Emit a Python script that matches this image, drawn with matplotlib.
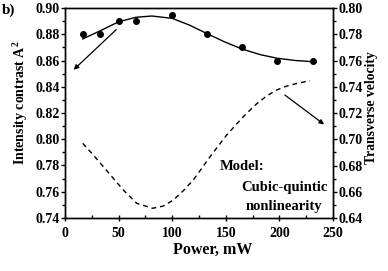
import matplotlib
matplotlib.use("Agg")
import matplotlib.pyplot as plt
from matplotlib.ticker import MultipleLocator

plt.rcParams['font.family'] = ['Liberation Serif', 'DejaVu Serif']
plt.rcParams['font.weight'] = 'bold'
plt.rcParams['mathtext.fontset'] = 'custom'
plt.rcParams['mathtext.bf'] = 'Liberation Serif:bold'
plt.rcParams['mathtext.rm'] = 'Liberation Serif:bold'

# measured points (left axis)
power_pts = [16.5, 33, 50, 66, 100, 132, 165, 198, 231]
contrast_pts = [0.880, 0.880, 0.890, 0.890, 0.895, 0.880, 0.870, 0.860, 0.860]

# solid fit curve (left axis)
fit_x = [16.5, 33, 50, 66, 81, 100, 116, 132, 148, 165, 182, 198, 215, 231]
fit_y = [0.8764, 0.8827, 0.8895, 0.8929, 0.8939, 0.8921, 0.8870, 0.8807, 0.8745, 0.8688, 0.8645, 0.8617, 0.8600, 0.8591]

# dashed model curve (right axis)
model_x = [16.5, 26.4, 35.8, 45.1, 54.4, 66.9, 81.8, 91.7, 101.1, 110.4, 119.7, 127.5,
           135.3, 143.0, 150.8, 160.1, 169.5, 178.8, 188.1, 197.5, 206.0, 216.1, 228.5]
model_v = [0.6969, 0.6880, 0.6791, 0.6702, 0.6613, 0.6512, 0.6474, 0.6491, 0.6537, 0.6608, 0.6690, 0.6778,
           0.6867, 0.6949, 0.7032, 0.7116, 0.7198, 0.7270, 0.7330, 0.7375, 0.7403, 0.7425, 0.7446]

fig = plt.figure(figsize=(3.88, 2.71), dpi=100)
ax = fig.add_axes([65/388, 1-218/271, 268/388, 210/271])
ax2 = ax.twinx()

ax.plot(fit_x, fit_y, color='black', lw=1.0)
ax.plot(power_pts, contrast_pts, 'o', color='black', ms=4)
ax2.plot(model_x, model_v, color='black', lw=1.0, ls=(0, (3.5, 2.8)))

ax.set_xlim(0, 250)
ax.set_ylim(0.74, 0.90)
ax2.set_ylim(0.64, 0.80)

fs = 10
ax.xaxis.set_major_locator(MultipleLocator(50))
ax.xaxis.set_minor_locator(MultipleLocator(25))
ax.yaxis.set_major_locator(MultipleLocator(0.02))
ax.yaxis.set_minor_locator(MultipleLocator(0.01))
ax2.yaxis.set_major_locator(MultipleLocator(0.02))
ax2.yaxis.set_minor_locator(MultipleLocator(0.01))
ax.yaxis.set_major_formatter(plt.FuncFormatter(lambda v, p: f"{v:.2f}"))
ax2.yaxis.set_major_formatter(plt.FuncFormatter(lambda v, p: f"{v:.2f}"))

ax.tick_params(axis='x', which='major', direction='inout', length=5, width=1, labelsize=fs, pad=4)
ax.tick_params(axis='x', which='minor', direction='in', length=2.5, width=1)
ax.tick_params(axis='y', which='major', direction='out', length=3, width=1, labelsize=fs, pad=1)
ax.tick_params(axis='y', which='minor', direction='out', length=2, width=1)
ax.tick_params(axis='y', which='both', right=False)
ax2.tick_params(axis='y', which='major', direction='out', length=3, width=1, labelsize=fs, pad=1)
ax2.tick_params(axis='y', which='minor', direction='out', length=2, width=1)
for a in (ax, ax2):
    for s in a.spines.values():
        s.set_linewidth(1.0)
    for lab in a.get_xticklabels() + a.get_yticklabels():
        lab.set_fontweight('bold')

ax.set_xlabel('Power, mW', fontsize=11.5, fontweight='bold')
ax.xaxis.set_label_coords((213-65)/268, -(250-218)/210, transform=ax.transAxes)
ax.xaxis.label.set_va('center')
ax.set_ylabel('Intensity contrast A$^{\\mathbf{2}}$', fontsize=10, fontweight='bold')
ax.yaxis.set_label_coords(-(65-20)/268, (218-103)/210, transform=ax.transAxes)
ax.yaxis.label.set_va('center')
ax2.set_ylabel('Transverse velocity', fontsize=9.8, fontweight='bold', rotation=90)
ax2.yaxis.set_label_coords(1+(372-333)/268, (218-108)/210, transform=ax.transAxes)
ax2.yaxis.label.set_va('center')

# arrows
ax.annotate('', xy=(6.2, 0.8515), xytext=(49.7, 0.885),
            arrowprops=dict(arrowstyle='-|>', color='black', lw=0.9, mutation_scale=7))
ax2.annotate('', xy=(243.8, 0.710), xytext=(203, 0.735),
             arrowprops=dict(arrowstyle='-|>', color='black', lw=0.9, mutation_scale=7),
             annotation_clip=False)

tfs = 10.5
ax2.text(144.6, 0.679, 'Model:', fontsize=tfs, fontweight='bold', ha='left', va='center')
ax2.text(204.5, 0.6636, 'Cubic-quintic', fontsize=tfs, fontweight='bold', ha='center', va='center')
ax2.text(204.0, 0.6484, 'nonlinearity', fontsize=tfs, fontweight='bold', ha='center', va='center')

fig.text(2/388, 1-10/271, 'b)', fontsize=11, fontweight='bold', ha='left', va='center')

fig.savefig('out.png', dpi=100)
